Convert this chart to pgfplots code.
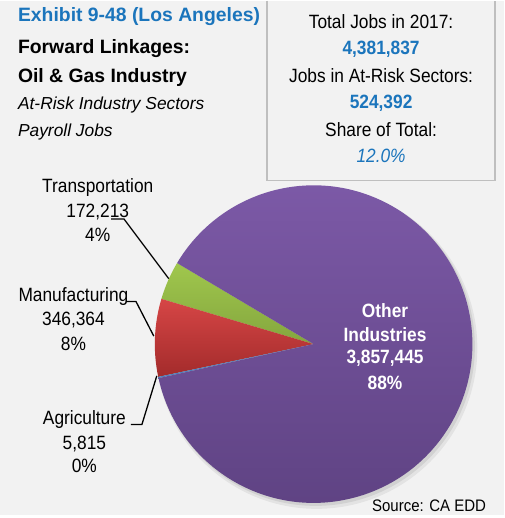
\documentclass[border=0pt]{standalone}
\usepackage{pgfplots}
\pgfplotsset{compat=1.18}
\usepackage{pgfplotstable}
\usepackage{fontspec}
\setmainfont{Liberation Sans}
\newfontfamily\narrow[FakeStretch=0.9]{Liberation Sans}
\definecolor{bg}{HTML}{F2F2F2}
\definecolor{ttlblue}{HTML}{1B75BC}
\definecolor{boxgray}{HTML}{BFBFBF}
\definecolor{purpTop}{HTML}{7D5AA8}
\definecolor{purpBot}{HTML}{5E4282}
\definecolor{redTop}{HTML}{D64646}
\definecolor{redBot}{HTML}{A32B2B}
\definecolor{grnTop}{HTML}{A0C74D}
\definecolor{grnBot}{HTML}{84A63E}
\definecolor{agBlue}{HTML}{4F81BD}

\pgfplotstableread{
sector value
Transportation 172213
Manufacturing 346364
Agriculture 5815
Other 3857445
}\piedata

\newcommand{\body}{\narrow\fontsize{19.4}{23}\selectfont}
\newcommand{\slice}[4]{%
  \path[top color=#3,bottom color=#4] (axis cs:316,172) -- ++(#1:160pt)
    arc[start angle=#1,end angle=#2,radius=160pt] -- cycle;}

\begin{document}
\begin{tikzpicture}
\pgfplotstablegetelem{0}{value}\of\piedata \edef\vT{\pgfplotsretval}
\pgfplotstablegetelem{1}{value}\of\piedata \edef\vM{\pgfplotsretval}
\pgfplotstablegetelem{2}{value}\of\piedata \edef\vA{\pgfplotsretval}
\pgfplotstablegetelem{3}{value}\of\piedata \edef\vO{\pgfplotsretval}
\edef\tot{\fpeval{\vT+\vM+\vA+\vO}}
\edef\aS{149.3}
\edef\aT{\fpeval{round(\aS+360*\vT/\tot,3)}}
\edef\aM{\fpeval{round(\aT+360*\vM/\tot,3)}}
\edef\aA{\fpeval{round(\aM+360*\vA/\tot,3)}}
\edef\aO{\fpeval{round(\aA+360*\vO/\tot,3)}}
\begin{axis}[
  x=1pt, y=1pt, xmin=0, xmax=508, ymin=0, ymax=518,
  scale only axis, hide axis, clip=false,
]
% background
\fill[bg] (axis cs:0,0) rectangle (axis cs:508,518);
% info box
\draw[boxgray, line width=1.5pt] (axis cs:269,518) -- (axis cs:269,337) -- (axis cs:499,337) -- (axis cs:499,518);
% title block
\node[anchor=base west, text=ttlblue, font=\fontsize{19.5}{23}\selectfont\bfseries, inner sep=0pt] at (axis cs:18,497) {Exhibit 9-48 (Los Angeles)};
\node[anchor=base west, font=\fontsize{19.5}{23}\selectfont\bfseries, inner sep=0pt] at (axis cs:18,465) {Forward Linkages:};
\node[anchor=base west, font=\fontsize{19.5}{23}\selectfont\bfseries, inner sep=0pt] at (axis cs:18,436) {Oil \& Gas Industry};
\node[anchor=base west, font=\fontsize{17.5}{21}\selectfont\itshape, inner sep=0pt] at (axis cs:18,408) {At-Risk Industry Sectors};
\node[anchor=base west, font=\fontsize{17.5}{21}\selectfont\itshape, inner sep=0pt] at (axis cs:18,381) {Payroll Jobs};
% box text
\node[anchor=base, font=\body, inner sep=0pt] at (axis cs:384,490.5) {Total Jobs in 2017:};
\node[anchor=base, font=\body\bfseries, text=ttlblue, inner sep=0pt] at (axis cs:384,464) {4,381,837};
\node[anchor=base, font=\body, inner sep=0pt] at (axis cs:384,436) {Jobs in At-Risk Sectors:};
\node[anchor=base, font=\body\bfseries, text=ttlblue, inner sep=0pt] at (axis cs:384,409) {524,392};
\node[anchor=base, font=\body, inner sep=0pt] at (axis cs:384,381) {Share of Total:};
\node[anchor=base, font=\body\itshape, text=ttlblue, inner sep=0pt] at (axis cs:384,355) {12.0\%};
% shadow
\fill[black, opacity=0.06] (axis cs:319,168) circle[radius=162pt];
\fill[black, opacity=0.08] (axis cs:318,169.5) circle[radius=160.5pt];
% slices
\slice{\aS}{\aT}{grnTop}{grnBot}
\slice{\aT}{\aM}{redTop}{redBot}
\slice{\aM}{\aA}{agBlue}{agBlue}
\slice{\aA}{\aO}{purpTop}{purpBot}
% leader lines
\draw[black, line width=1.3pt] (axis cs:112,298) -- (axis cs:125,298) -- (axis cs:170,238);
\draw[black, line width=1.3pt] (axis cs:127,215) -- (axis cs:137,215) -- (axis cs:155,180);
\draw[black, line width=1.3pt] (axis cs:132,91) -- (axis cs:143,91) -- (axis cs:158,140);
% labels
\node[anchor=base, font=\body, inner sep=0pt] at (axis cs:98.5,325) {Transportation};
\node[anchor=base, font=\body, inner sep=0pt] at (axis cs:98.5,300) {172,213};
\node[anchor=base, font=\body, inner sep=0pt] at (axis cs:98.5,275) {4\%};
\node[anchor=base, font=\body, inner sep=0pt] at (axis cs:74,215) {Manufacturing};
\node[anchor=base, font=\body, inner sep=0pt] at (axis cs:74,191) {346,364};
\node[anchor=base, font=\body, inner sep=0pt] at (axis cs:74,166) {8\%};
\node[anchor=base, font=\body, inner sep=0pt] at (axis cs:85,91) {Agriculture};
\node[anchor=base, font=\body, inner sep=0pt] at (axis cs:85,66) {5,815};
\node[anchor=base, font=\body, inner sep=0pt] at (axis cs:85,43) {0\%};
\node[anchor=base, font=\body\bfseries, text=white, inner sep=0pt] at (axis cs:388,199) {Other};
\node[anchor=base, font=\body\bfseries, text=white, inner sep=0pt] at (axis cs:388,175) {Industries};
\node[anchor=base, font=\body\bfseries, text=white, inner sep=0pt] at (axis cs:388,152) {3,857,445};
\node[anchor=base, font=\body\bfseries, text=white, inner sep=0pt] at (axis cs:388,126) {88\%};
% source
\node[anchor=base east, font=\narrow\fontsize{16.8}{20}\selectfont, inner sep=0pt] at (axis cs:490,3) {Source: CA EDD};
\end{axis}
\end{tikzpicture}
\end{document}
